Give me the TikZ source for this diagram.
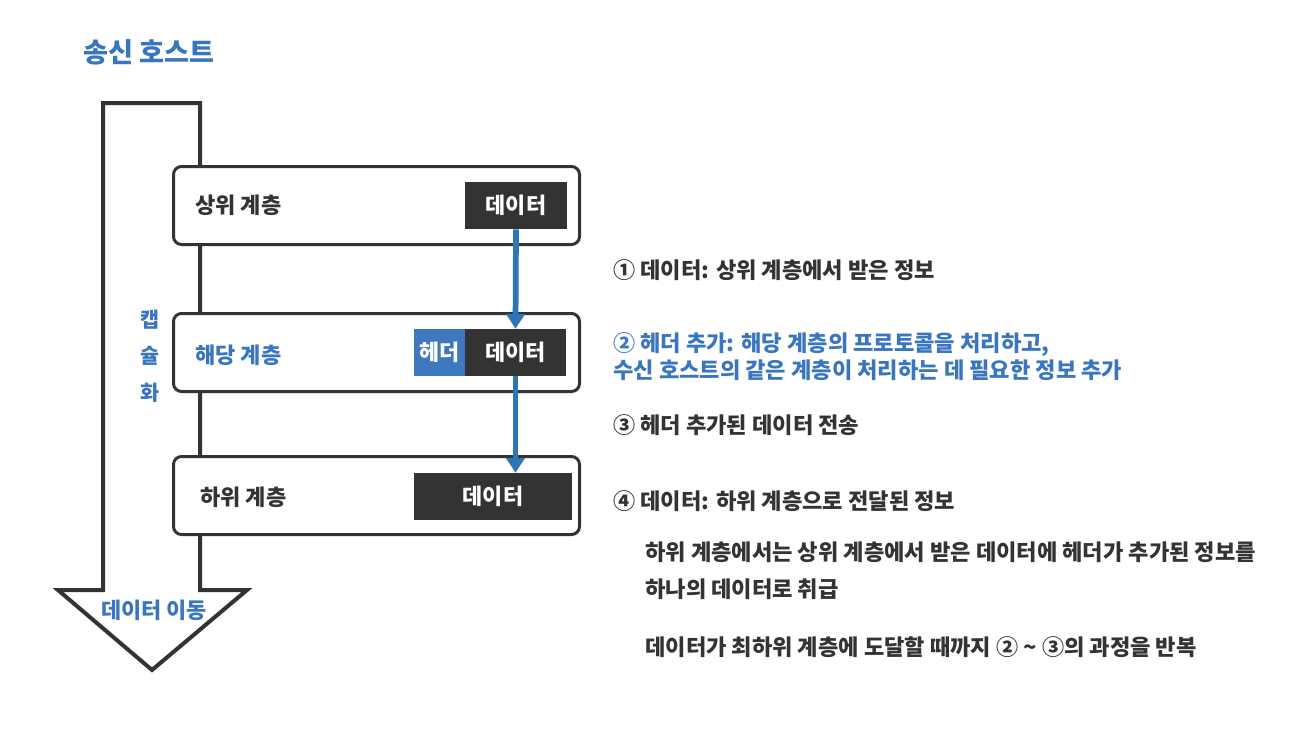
\documentclass[tikz,border=0pt]{standalone}
\usepackage{fontspec}
\setmainfont{Noto Sans CJK KR}
\usetikzlibrary{arrows.meta}
\definecolor{dk}{HTML}{333333}
\definecolor{bl}{HTML}{3A76BD}
\definecolor{ar}{HTML}{2E75B6}
\definecolor{hd}{HTML}{3F78C1}
\begin{document}
\begin{tikzpicture}[x=0.75pt,y=-0.75pt,
  lay/.style={draw=dk, line width=2.25pt, rounded corners=6pt, fill=white, minimum width=304.5pt, minimum height=58.5pt, inner sep=0pt},
  dbox/.style={fill=dk, text=white, minimum height=35.25pt, inner sep=0pt, font=\bfseries\fontsize{16.4}{19}\selectfont},
  hbox/.style={fill=hd, text=white, minimum height=35.25pt, inner sep=0pt, font=\bfseries\fontsize{16.4}{19}\selectfont},
  lbl/.style={anchor=west, inner sep=0pt, text=dk, font=\bfseries\fontsize{16.5}{19}\selectfont},
  note/.style={anchor=west, inner sep=0pt, text=dk, font=\bfseries\fontsize{16.6}{19}\selectfont},
  barrow/.style={draw=ar, line width=4.3pt, -{Triangle[width=13.5pt,length=11pt]}},
  big/.style={draw=dk, line width=3pt, line join=miter, fill=white}]
\useasboundingbox (0,0) rectangle (1302,728);
% big arrow
\draw[big] (103,590) -- (103,103) -- (200,103) -- (200,590) -- (247,590) -- (152,670) -- (58,590) -- cycle;
% title
\node[anchor=west, inner sep=0pt, text=bl, font=\bfseries\fontsize{20.4}{24}\selectfont] (title) at (83,52) {송신 호스트};
% layers
\node[lay] (L1) at (376.5,205.5) {};
\node[lay] (L2) at (376.5,352.5) {};
\node[lay] (L3) at (376.5,495.5) {};
\node[lbl] (t1) at (195,205) {상위 계층};
\node[lbl, text=bl] (t2) at (195,355) {해당 계층};
\node[lbl] (t3) at (200,497) {하위 계층};
\node[dbox, minimum width=76.5pt] (d1) at (516,205.5) {데이터};
\node[hbox, minimum width=38.25pt] (h2) at (439.5,352.5) {헤더};
\node[dbox, minimum width=75.75pt] (d2) at (515.5,352.5) {데이터};
\node[dbox, minimum width=118.5pt] (d3) at (493,496.5) {데이터};
\draw[barrow] (d1.south) -- (d2.north);
\draw[barrow] (d2.south) -- (d2.south |- d3.north);
% side labels
\node[align=center, inner sep=0pt, text=bl, font=\bfseries\fontsize{15.5}{27.5}\selectfont] (cap) at (150,356) {캡\\슐\\화};
\node[inner sep=0pt, text=bl, font=\bfseries\fontsize{16.4}{19}\selectfont] (move) at (154,610) {데이터 이동};
% notes
\node[note] (n1) at (613,270) {① 데이터: 상위 계층에서 받은 정보};
\node[note, text=bl] (n2a) at (613,345) {② 헤더 추가: 해당 계층의 프로토콜을 처리하고,};
\node[note, text=bl] (n2b) at (613,370) {수신 호스트의 같은 계층이 처리하는 데 필요한 정보 추가};
\node[note] (n3) at (613,425) {③ 헤더 추가된 데이터 전송};
\node[note] (n4) at (613,501) {④ 데이터: 하위 계층으로 전달된 정보};
\node[note] (n5) at (645,552) {하위 계층에서는 상위 계층에서 받은 데이터에 헤더가 추가된 정보를};
\node[note] (n6) at (645,589) {하나의 데이터로 취급};
\node[note] (n7) at (645,647) {데이터가 최하위 계층에 도달할 때까지 ② \textasciitilde{} ③의 과정을 반복};
\end{tikzpicture}
\end{document}
